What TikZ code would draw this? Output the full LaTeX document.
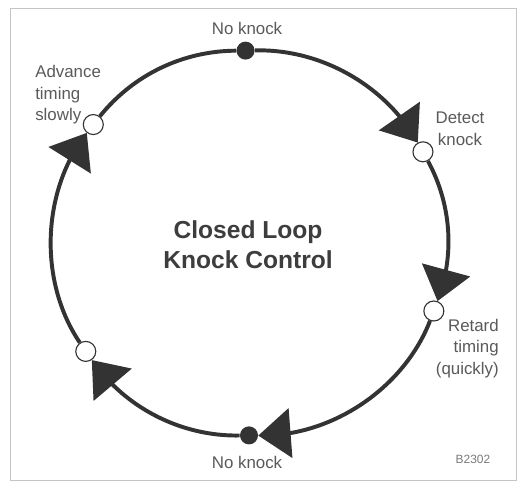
\documentclass[tikz,border=0pt]{standalone}
\usepackage{fontspec}
\setmainfont{Liberation Sans}
\usetikzlibrary{arrows.meta,bending}

\definecolor{loopgray}{HTML}{333333}
\definecolor{textgray}{HTML}{5A5A5A}
\definecolor{framegray}{HTML}{C4C4C4}

\tikzset{
  state/.style={circle,inner sep=0pt,minimum size=0.45cm,fill=loopgray},
  check/.style={circle,inner sep=0pt,minimum size=0.5cm,draw=loopgray,line width=0.8pt,fill=white},
  lbl/.style={inner sep=0pt,text=textgray,font=\fontsize{12}{15.3}\selectfont},
  loopline/.style={draw=loopgray,line width=2.8pt},
  flow/.style={loopline,-{Triangle[length=23pt,width=35pt]}},
}

\begin{document}
\begin{tikzpicture}
          \def\rx{4.94}
          \def\ry{4.81}
          \useasboundingbox[fill=white] (-6.225,-5.975) rectangle (6.7,6.075);
          \draw[framegray,line width=0.6pt] (-5.975,-5.925) rectangle (6.675,5.875);
          % states round the loop
          \node[state] (knocktop) at ({\rx*cos(91)},{\ry*sin(91)}) {};
          \node[check] (detect) at ({\rx*cos(28.3)},{\ry*sin(28.3)}) {};
          \node[check] (retard) at ({\rx*cos(-20.7)},{\ry*sin(-20.7)}) {};
          \node[state] (knockbot) at ({\rx*cos(-90)},{\ry*sin(-90)}) {};
          \node[check] (lowleft) at ({\rx*cos(214.3)},{\ry*sin(214.3)}) {};
          \node[check] (advance) at ({\rx*cos(142)},{\ry*sin(142)}) {};
          % loop
          \draw[flow] (knocktop) to[bend left=31,looseness=0.9] (detect);
          \draw[flow] (detect) to[bend left=24.5,looseness=0.9] (retard);
          \draw[flow] (retard) to[bend left=35,looseness=0.9] (knockbot);
          \draw[flow] (knockbot) to[bend left=28,looseness=0.9] (lowleft);
          \draw[flow] (lowleft) to[bend left=36,looseness=0.9] (advance);
          \draw[loopline] (advance) to[bend left=25.5,looseness=0.9] (knocktop);
          % labels
          \node[lbl] (toplbl) at (-0.05,5.375) {No knock};
          \node[lbl,align=center] (detectlbl) at (5.275,2.85) {Detect\\knock};
          \node[lbl,align=right,anchor=east] (retardlbl) at (6.25,-2.63) {Retard\\timing\\(quickly)};
          \node[lbl,align=left,anchor=west] (advancelbl) at (-5.35,3.7) {Advance\\timing\\slowly};
          \node[lbl] (botlbl) at (-0.05,-5.475) {No knock};
          \node[inner sep=0pt,text=textgray!80,font=\fontsize{8.5}{10}\selectfont] (figno) at (5.6,-5.4) {B2302};
          \node[inner sep=0pt,text=loopgray!95,align=center,font=\bfseries\fontsize{17.5}{21.3}\selectfont] (title) at (-0.025,-0.05) {Closed Loop\\Knock Control};
        \end{tikzpicture}
\end{document}
